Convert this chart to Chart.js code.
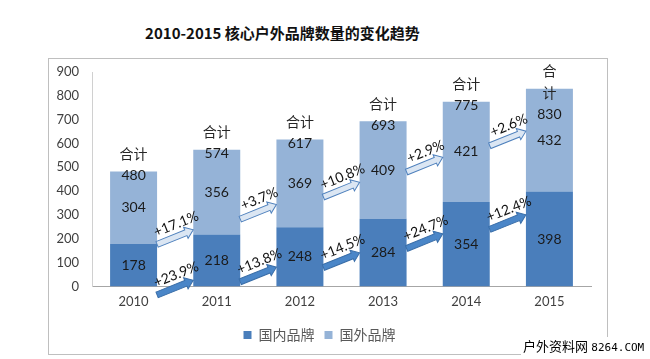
<!DOCTYPE html>
<html>
<head>
<meta charset="utf-8">
<script src="https://cdn.jsdelivr.net/npm/chart.js@4/dist/chart.umd.min.js"></script>
<style>
html,body{margin:0;padding:0;background:#fff;}
#wrap{position:relative;width:650px;height:359px;overflow:hidden;}
#title{position:absolute;left:0;width:565px;top:22px;text-align:center;font:bold 15px "Noto Sans CJK SC","Open Sans",sans-serif;color:#111;}
#frame{position:absolute;left:48px;top:58px;width:560px;height:297px;border:1px solid #bfbfbf;box-sizing:border-box;}
#cv{position:absolute;left:0;top:0;}
#wm{position:absolute;left:521px;top:337px;background:#fff;padding:1px 2px;font-size:13px;color:#000;white-space:nowrap;line-height:16px;}
#wm .c{font-family:"Noto Sans CJK SC",sans-serif;font-size:13px;}
#wm .m{font-family:"DejaVu Sans Mono",monospace;font-size:11px;}
</style>
</head>
<body>
<div id="wrap">
  <div id="title">2010-2015 核心户外品牌数量的变化趋势</div>
  <div id="frame"></div>
  <canvas id="cv" width="650" height="359"></canvas>
  <div id="wm"><span class="c">户外资料网</span> <span class="m">8264.COM</span></div>
</div>
<script>
const years = ['2010', '2011', '2012', '2013', '2014', '2015'];
const domestic = [178, 218, 248, 284, 354, 398];
const foreign = [304, 356, 369, 409, 421, 432];
const totals = [480, 574, 617, 693, 775, 830];
const totalCaption = ['合计', '合计', '合计', '合计', '合计', '合\n计'];
const seriesNames = ['国内品牌', '国外品牌'];
const domesticGrowth = ['+23.9%', '+13.8%', '+14.5%', '+24.7%', '+12.4%'];
const foreignGrowth = ['+17.1%', '+3.7%', '+10.8%', '+2.9%', '+2.6%'];
const domesticArrowAt = [-5, 50, 110, 190, 270];
const foreignArrowAt = [207, 313, 406, 511, 621];
const yMin = 0, yMax = 900, yStep = 100;

const NUM_FONT = 'Lato, "Liberation Sans", sans-serif';
const CJK_FONT = '"Noto Sans CJK SC", sans-serif';

function drawArrow(ctx, cx, cy, len, ang, fill, stroke) {
  ctx.save();
  ctx.translate(cx, cy);
  ctx.rotate(-ang);
  const h = len / 2, sh = 3, hw = 6, hl = 8;
  ctx.beginPath();
  ctx.moveTo(-h, -sh);
  ctx.lineTo(h - hl, -sh);
  ctx.lineTo(h - hl, -hw);
  ctx.lineTo(h, 0);
  ctx.lineTo(h - hl, hw);
  ctx.lineTo(h - hl, sh);
  ctx.lineTo(-h, sh);
  ctx.closePath();
  ctx.fillStyle = fill;
  ctx.fill();
  ctx.lineWidth = 1;
  ctx.strokeStyle = stroke;
  ctx.stroke();
  ctx.restore();
}

const labelPlugin = {
  id: 'barLabels',
  afterDatasetsDraw(chart) {
    const ctx = chart.ctx;
    const ys = chart.scales.y;
    const m0 = chart.getDatasetMeta(0), m1 = chart.getDatasetMeta(1);
    ctx.save();
    ctx.textAlign = 'center';
    ctx.textBaseline = 'middle';
    years.forEach((yr, i) => {
      const b0 = m0.data[i], b1 = m1.data[i];
      ctx.fillStyle = '#1a1a1a';
      ctx.font = '14px ' + NUM_FONT;
      ctx.fillText(String(domestic[i]), b0.x, (b0.y + b0.base) / 2);
      ctx.fillText(String(foreign[i]), b1.x, (b1.y + b1.base) / 2);
      const lines = totalCaption[i].split('\n');
      const top = b1.y;
      const ty = top + 4 + (lines.length - 1) * 22;
      ctx.fillText(String(totals[i]), b1.x, ty);
      ctx.font = '14px ' + CJK_FONT;
      ctx.fillStyle = '#262626';
      lines.forEach((ln, k) => {
        ctx.fillText(ln, b1.x, ty - 22 * (lines.length - k));
      });
    });
    const ang = 22 * Math.PI / 180;
    for (let i = 0; i < years.length - 1; i++) {
      const a = m0.data[i], b = m0.data[i + 1];
      const x0 = a.x + a.width / 2, x1 = b.x - b.width / 2;
      const cx = (x0 + x1) / 2;
      const len = (x1 - x0) / Math.cos(ang);
      const pairs = [
        [foreignArrowAt[i], foreignGrowth[i], '#dbe6f3', '#4f81bd'],
        [domesticArrowAt[i], domesticGrowth[i], '#4a86c8', '#3a6ea8']
      ];
      pairs.forEach(([v, txt, fill, stroke]) => {
        const cy = ys.getPixelForValue(v);
        drawArrow(ctx, cx, cy, len, ang, fill, stroke);
        ctx.save();
        ctx.translate(cx + 1, cy - 13);
        ctx.rotate(-ang);
        ctx.fillStyle = '#111';
        ctx.font = '14px ' + NUM_FONT;
        ctx.textAlign = 'center';
        ctx.textBaseline = 'middle';
        ctx.fillText(txt, 0, 0);
        ctx.restore();
      });
    }
    ctx.restore();
  }
};

new Chart(document.getElementById('cv'), {
  type: 'bar',
  data: {
    labels: years,
    datasets: [
      { label: seriesNames[0], data: domestic, backgroundColor: '#4a7ebb' },
      { label: seriesNames[1], data: foreign, backgroundColor: '#95b3d7' }
    ]
  },
  options: {
    responsive: false,
    animation: false,
    devicePixelRatio: 1,
    layout: { padding: { left: 48, right: 59, top: 72, bottom: 7 } },
    datasets: { bar: { categoryPercentage: 1, barPercentage: 0.565 } },
    scales: {
      x: {
        stacked: true,
        grid: { display: false, drawTicks: false },
        border: { display: true, color: '#a6a6a6' },
        ticks: { font: { size: 13, family: NUM_FONT }, color: '#404040', padding: 8 }
      },
      y: {
        stacked: true,
        min: yMin, max: yMax,
        grid: { display: false, drawTicks: false },
        border: { display: true, color: '#d0d0d0' },
        ticks: { stepSize: yStep, font: { size: 13, family: NUM_FONT }, color: '#404040', padding: 13 },
        afterFit(scale) { scale.width = 44; }
      }
    },
    plugins: {
      legend: {
        position: 'bottom',
        labels: { boxWidth: 8, boxHeight: 8, font: { size: 14, family: CJK_FONT }, color: '#595959', padding: 10 }
      },
      tooltip: { enabled: false },
      title: { display: false }
    }
  },
  plugins: [labelPlugin]
});
</script>
</body>
</html>
